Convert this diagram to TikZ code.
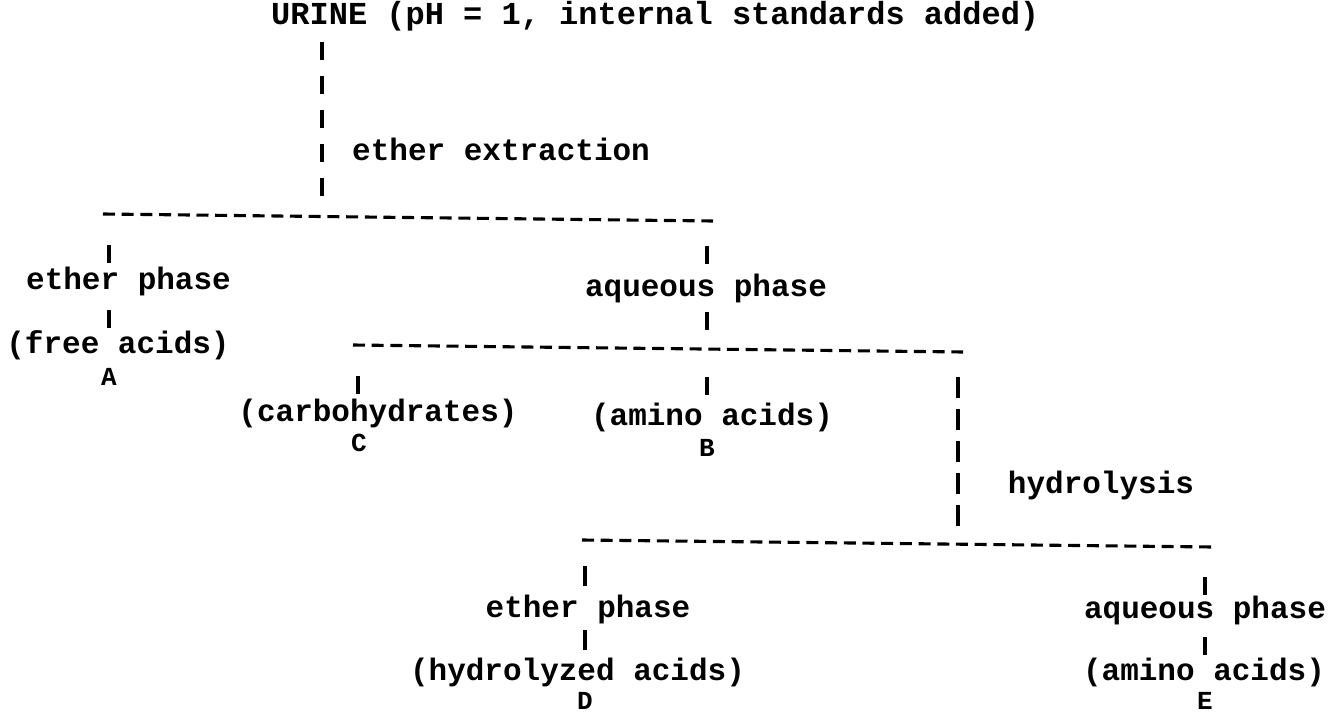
\documentclass[tikz,border=0pt]{standalone}
\usepackage{fontspec}
\newfontfamily\twfont{Liberation Mono}
\begin{document}
\begin{tikzpicture}[x=1pt,y=-1pt,
  tw/.style={font=\twfont\fontsize{31}{31}\selectfont\bfseries, inner sep=0pt, anchor=base},
  twbig/.style={tw, font=\twfont\fontsize{32}{32}\selectfont\bfseries},
  tag/.style={font=\twfont\fontsize{26}{26}\selectfont\bfseries, inner sep=0pt, anchor=base},
  hyph/.style={line width=3.1pt, dash pattern=on 12pt off 6.7pt},
  vbar/.style={line width=3.4pt},
]
\fill[white] (0,0) rectangle (1334,714);
\useasboundingbox (0,0) rectangle (1334,714);

% typed labels
\node[twbig, anchor=base west] (urine) at (271,25) {URINE (pH = 1, internal standards added)};
\node[tw, anchor=base west] (extr) at (352,161) {ether extraction};
\node[tw] (eth1) at (128.5,290) {ether phase};
\node[tw] (aq1) at (706,296) {aqueous phase};
\node[tw] (free) at (118,353) {(free acids)};
\node[tag] (A) at (109,385) {A};
\node[tw] (carb) at (378,421) {(carbohydrates)};
\node[tw] (amino1) at (712,425) {(amino acids)};
\node[tag] (C) at (359,451) {C};
\node[tag] (B) at (707,456) {B};
\node[tw] (hyd) at (1101,493) {hydrolysis};
\node[tw] (eth2) at (588,617) {ether phase};
\node[tw] (aq2) at (1205,618) {aqueous phase};
\node[tw] (hydac) at (577.5,680) {(hydrolyzed acids)};
\node[tw] (amino2) at (1204,680) {(amino acids)};
\node[tag] (D) at (585,709) {D};
\node[tag] (E) at (1205,709) {E};

% separation bars (typed hyphens)
\coordinate (s1a) at (103,214);  \coordinate (s1b) at (713,221);
\coordinate (s2a) at (353,345);  \coordinate (s2b) at (963,352);
\coordinate (s3a) at (582,540);  \coordinate (s3b) at (1212,547);
\draw[hyph] (s1a) -- (s1b);
\draw[hyph] (s2a) -- (s2b);
\draw[hyph] (s3a) -- (s3b);

% vertical runs of typed bars
\coordinate (u1) at (322,42);  \coordinate (u2) at (322,196);
\draw[vbar, dash pattern=on 18pt off 16pt] (u1) -- (u2);
\coordinate (h1) at (958,377); \coordinate (h2) at (958,526);
\draw[vbar, dash pattern=on 21pt off 11pt] (h1) -- (h2);

% single bars
\foreach \x/\ya/\yb in {109/245/263, 109/310/328,
                        707/246/264, 707/312/330, 707/377/395,
                        358/376/394,
                        585/566/586, 585/630/650,
                        1205/577/595, 1205/637/655}
  \draw[vbar] (\x,\ya) -- (\x,\yb);
\end{tikzpicture}
\end{document}
